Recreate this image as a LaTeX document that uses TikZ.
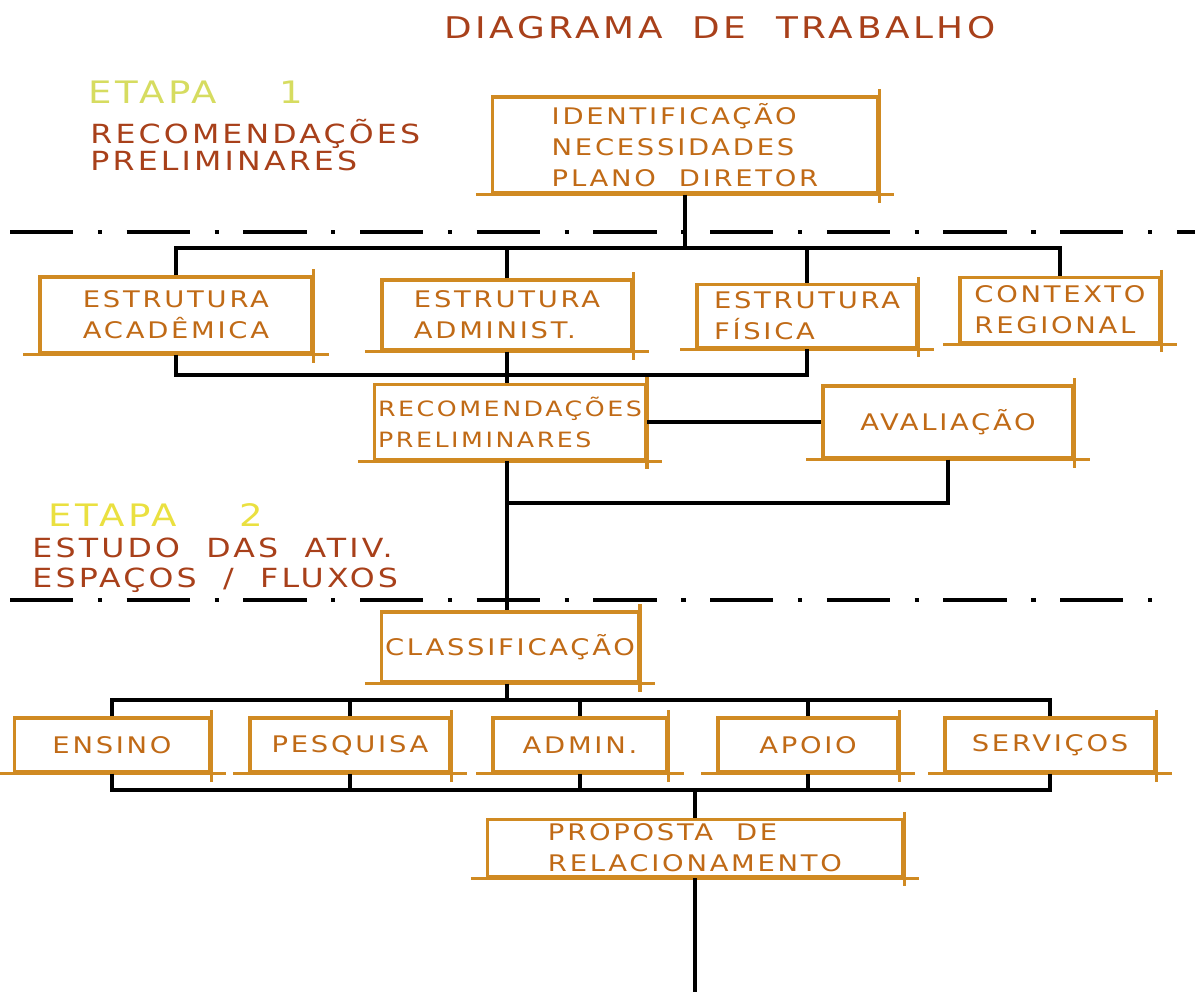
\documentclass[tikz,border=0pt]{standalone}
\usepackage{fontspec}
\newfontfamily\hand[FakeStretch=1.2,LetterSpace=12]{DejaVu Sans}
\definecolor{corcaixa}{HTML}{D08A22}
\definecolor{corletra}{HTML}{C06A16}
\definecolor{cortitulo}{HTML}{A8401A}
\definecolor{coretapaA}{HTML}{D6DC60}
\definecolor{coretapaB}{HTML}{EAE040}
\begin{document}
\begin{tikzpicture}[
  risco/.style={draw=corcaixa,line width=0.9pt},
  caixa/.style={draw=corcaixa,line width=0.9pt,text=corletra,align=left,inner sep=1pt,
    font=\hand\fontsize{6.5}{8.8}\selectfont,
    append after command={([xshift=-1.5mm]\tikzlastnode.south west) edge[risco] ([xshift=1.5mm]\tikzlastnode.south east)
      ([yshift=0.6mm]\tikzlastnode.north east) edge[risco] ([yshift=-0.8mm]\tikzlastnode.south east)}},
  liga/.style={draw=black,line width=1.1pt},
  corte/.style={draw=black,line width=1.1pt,dash pattern=on 18pt off 7pt on 1.2pt off 7pt}]
\useasboundingbox (0,0) rectangle (11.95,-9.92);
% titulo e etapas
\node[text=cortitulo,font=\hand\fontsize{8.5}{10}\selectfont] (titulo) at (7.2,-0.28) {DIAGRAMA\quad DE\quad TRABALHO};
\node[anchor=west,text=coretapaA,font=\hand\fontsize{8.8}{11}\selectfont] (etapa1) at (0.76,-0.92) {ETAPA\quad\ \ 1};
\node[anchor=west,text=cortitulo,align=left,font=\hand\fontsize{7.5}{7.8}\selectfont] (recom) at (0.78,-1.45) {RECOMENDAÇÕES\\PRELIMINARES};
\node[anchor=west,text=coretapaB,font=\hand\fontsize{8.8}{11}\selectfont] (etapa2) at (0.36,-5.15) {ETAPA\quad\ \ 2};
\node[anchor=west,text=cortitulo,align=left,font=\hand\fontsize{7.5}{8.5}\selectfont] (estudo) at (0.2,-5.65) {ESTUDO\quad DAS\quad ATIV.\\ESPAÇOS\ \ /\ \ FLUXOS};
% linhas de corte
\draw[corte] (0.1,-2.32) -- (11.95,-2.32);
\draw[corte] (0.1,-6.0) -- (11.65,-6.0);
% etapa 1
\node[caixa,minimum width=3.85cm,minimum height=0.96cm] (Id) at (6.85,-1.45) {IDENTIFICAÇÃO\\NECESSIDADES\\PLANO\ \ DIRETOR};
\node[caixa,minimum width=2.72cm,minimum height=0.76cm] (Ac) at (1.76,-3.15) {ESTRUTURA\\ACADÊMICA};
\node[caixa,minimum width=2.5cm,minimum height=0.7cm] (Ad) at (5.07,-3.15) {ESTRUTURA\\ADMINIST.};
\node[caixa,minimum width=2.2cm,minimum height=0.63cm] (Fi) at (8.07,-3.16) {ESTRUTURA\\FÍSICA};
\node[caixa,minimum width=2.0cm,minimum height=0.65cm] (Co) at (10.6,-3.1) {CONTEXTO\\REGIONAL};
\node[caixa,minimum width=2.6cm,minimum height=0.75cm,font=\hand\fontsize{6}{8.8}\selectfont] (Rec) at (5.1,-4.22) {RECOMENDAÇÕES\\PRELIMINARES};
\node[caixa,minimum width=2.5cm,minimum height=0.72cm] (Av) at (9.48,-4.22) {AVALIAÇÃO};
\coordinate (j1) at (6.85,-2.48);
\coordinate (j2) at (5.07,-3.75);
\coordinate (j3) at (5.07,-5.03);
\draw[liga] (Id.south) -- (j1);
\draw[liga] (Ac.north) |- (j1);
\draw[liga] (Ad.north) |- (j1);
\draw[liga] (Fi.north) |- (j1);
\draw[liga] (Co.north) |- (j1);
\draw[liga] (Ac.south) |- (j2);
\draw[liga] (Fi.south) |- (j2);
\draw[liga] (Ad.south) -- (Ad.south |- Rec.north);
\draw[liga] (Rec.east) -- (Av.west);
\draw[liga] (Av.south) |- (j3);
% etapa 2
\node[caixa,minimum width=2.55cm,minimum height=0.7cm] (Cl) at (5.1,-6.47) {CLASSIFICAÇÃO};
\node[caixa,minimum width=1.95cm,minimum height=0.54cm] (En) at (1.12,-7.45) {ENSINO};
\node[caixa,minimum width=2.0cm,minimum height=0.54cm] (Pe) at (3.5,-7.45) {PESQUISA};
\node[caixa,minimum width=1.74cm,minimum height=0.54cm] (Adm) at (5.8,-7.45) {ADMIN.};
\node[caixa,minimum width=1.8cm,minimum height=0.54cm] (Ap) at (8.08,-7.45) {APOIO};
\node[caixa,minimum width=2.1cm,minimum height=0.54cm] (Se) at (10.5,-7.45) {SERVIÇOS};
\node[caixa,minimum width=4.15cm,minimum height=0.57cm] (Pr) at (6.95,-8.48) {PROPOSTA\ \ DE\\RELACIONAMENTO};
\coordinate (j4) at (5.07,-7.0);
\coordinate (j5) at (6.95,-7.9);
\coordinate (fim) at (6.95,-9.92);
\draw[liga] (j2 |- Rec.south) -- (j2 |- Cl.north);
\draw[liga] (j4 |- Cl.south) -- (j4);
\foreach \n in {En,Pe,Adm,Ap,Se} {
  \draw[liga] (\n.north) |- (j4);
  \draw[liga] (\n.south) |- (j5);
}
\draw[liga] (j5) -- (Pr.north);
\draw[liga] (Pr.south) -- (fim);
\end{tikzpicture}
\end{document}
